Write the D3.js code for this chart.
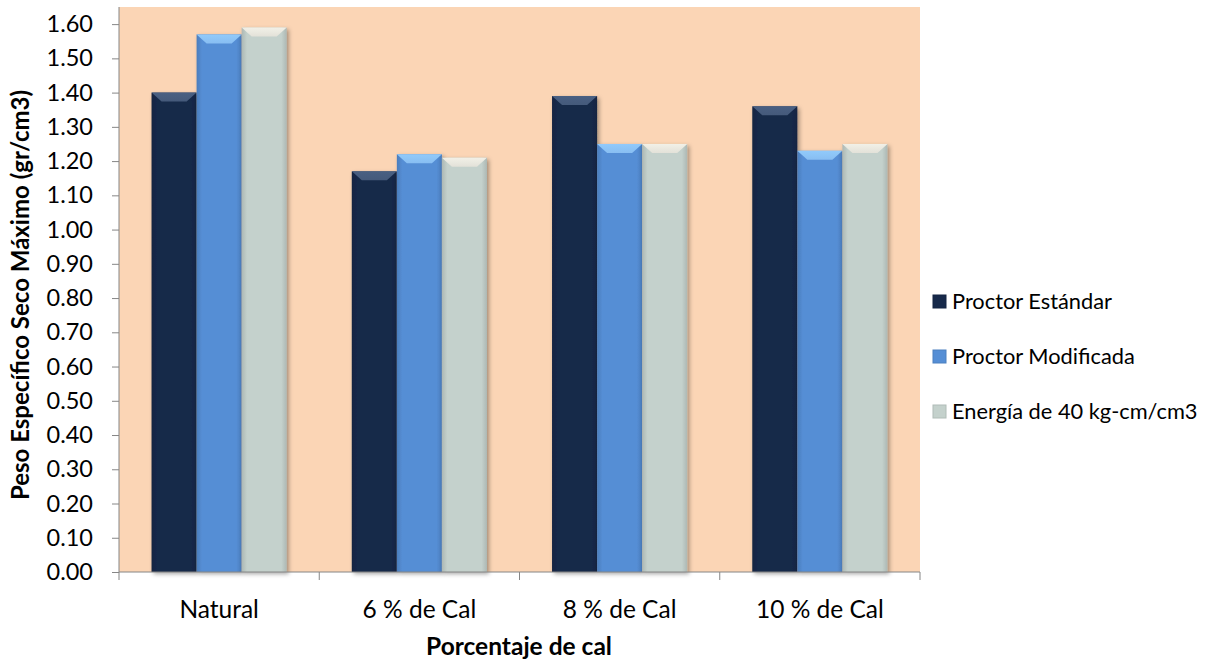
<!DOCTYPE html>
<html><head><meta charset="utf-8">
<script src="https://cdn.jsdelivr.net/npm/d3@7"></script>
<style>body{margin:0;background:#fff;} text{font-family:Lato,"Open Sans",sans-serif;}</style>
</head><body>
<svg id="c" width="1209" height="661"></svg>
<script>
const categories = ["Natural", "6 % de Cal", "8 % de Cal", "10 % de Cal"];
const seriesNames = ["Proctor Estándar", "Proctor Modificada", "Energía de 40 kg-cm/cm3"];
const proctorEstandar = [1.40, 1.17, 1.39, 1.36];
const proctorModificada = [1.57, 1.22, 1.25, 1.23];
const energia40 = [1.59, 1.21, 1.25, 1.25];
const yTicks = [0,0.1,0.2,0.3,0.4,0.5,0.6,0.7,0.8,0.9,1.0,1.1,1.2,1.3,1.4,1.5,1.6];
const seriesValues = [proctorEstandar, proctorModificada, energia40];
const colors = ["#17294A", "#558ED5", "#C4D1CC"];
const bevel = ["#4A5F80", "#8EC3F5", "#E6E3DA"];

const svg = d3.select("#c");
const pL = 119, pR = 920, pT = 7, pB = 572;

const defs = svg.append("defs");
const f = defs.append("filter").attr("id","sh").attr("x","-20%").attr("y","-10%").attr("width","150%").attr("height","130%");
f.append("feDropShadow").attr("dx",2).attr("dy",2).attr("stdDeviation",2).attr("flood-color","#000").attr("flood-opacity",0.35);
colors.forEach((c,i)=>{
  const g = defs.append("linearGradient").attr("id","g"+i).attr("x1","0").attr("x2","1").attr("y1","0").attr("y2","0");
  const dk = d3.color(c).darker(0.35).toString();
  g.append("stop").attr("offset","0").attr("stop-color",dk);
  g.append("stop").attr("offset","0.12").attr("stop-color",c);
  g.append("stop").attr("offset","0.88").attr("stop-color",c);
  g.append("stop").attr("offset","1").attr("stop-color",dk);
  const bg = defs.append("linearGradient").attr("id","b"+i).attr("x1","0").attr("x2","0").attr("y1","0").attr("y2","1");
  bg.append("stop").attr("offset","0").attr("stop-color",d3.color(bevel[i]).brighter(0.2));
  bg.append("stop").attr("offset","1").attr("stop-color",bevel[i]);
});

svg.append("rect").attr("x",pL).attr("y",pT).attr("width",pR-pL).attr("height",pB-pT).attr("fill","#FBD5B5");

const x0 = d3.scaleBand().domain(categories).range([pL,pR]).paddingInner(0).paddingOuter(0);
const x1 = d3.scaleBand().domain(d3.range(3)).range([0, x0.bandwidth()*0.675]);
const groupOff = (x0.bandwidth() - x0.bandwidth()*0.675)/2;
const y = d3.scaleLinear().domain([0,1.65]).range([pB, pT]);

// bars
const groups = svg.append("g").selectAll("g").data(categories).join("g")
  .attr("transform", d => `translate(${x0(d)+groupOff},0)`);
groups.each(function(cat, ci){
  const g = d3.select(this);
  seriesValues.forEach((vals, si) => {
    const v = vals[ci];
    const bx = x1(si), bw = x1.bandwidth(), by = y(v), bh = y(0)-y(v);
    g.append("rect").attr("x",bx).attr("y",by).attr("width",bw).attr("height",bh)
      .attr("fill","url(#g"+si+")").attr("filter","url(#sh)");
    const b = 9, s = 10;
    g.append("path").attr("d",`M${bx},${by}L${bx+bw},${by}L${bx+bw-s},${by+b}L${bx+s},${by+b}Z`)
      .attr("fill","url(#b"+si+")").attr("opacity",0.9);
  });
});

// axes
const yAxis = d3.axisLeft(y).tickValues(yTicks).tickFormat(d3.format(".2f")).tickSize(7).tickPadding(19);
const ya = svg.append("g").attr("transform",`translate(${pL},0)`).call(yAxis);
ya.selectAll("text").attr("font-size",23.5).attr("fill","#000");
ya.selectAll("line,path").attr("stroke","#868686");
ya.select(".domain").attr("d",`M0,${pT}V${pB}`);

const xa = svg.append("g").attr("transform",`translate(0,${pB})`);
xa.append("line").attr("x1",pL).attr("x2",pR).attr("stroke","#868686");
const bounds = categories.map(c=>x0(c)).concat([pR]);
xa.selectAll("line.t").data(bounds).join("line").attr("class","t")
  .attr("x1",d=>d).attr("x2",d=>d).attr("y1",0).attr("y2",8).attr("stroke","#868686");
xa.selectAll("text").data(categories).join("text")
  .attr("x",d=>x0(d)+x0.bandwidth()/2).attr("y",46).attr("text-anchor","middle")
  .attr("font-size",24.5).attr("fill","#000").text(d=>d);

svg.append("text").attr("x",519).attr("y",655).attr("text-anchor","middle")
  .attr("font-size",24.5).attr("font-weight","bold").text("Porcentaje de cal");
svg.append("text").attr("transform","translate(29,295) rotate(-90)").attr("text-anchor","middle")
  .attr("font-size",24).attr("font-weight","bold").text("Peso Específico Seco Máximo (gr/cm3)");

// legend
const lg = svg.append("g").selectAll("g").data(seriesNames).join("g")
  .attr("transform",(d,i)=>`translate(933,${301+i*55})`);
lg.append("rect").attr("x",0).attr("y",-6).attr("width",13).attr("height",13)
  .attr("fill",(d,i)=>colors[i]).attr("stroke",(d,i)=>d3.color(colors[i]).darker(0.3)).attr("stroke-width",1);
lg.append("text").attr("x",19).attr("y",8).attr("font-size",21.8).attr("fill","#000").text(d=>d);
</script>
</body></html>
